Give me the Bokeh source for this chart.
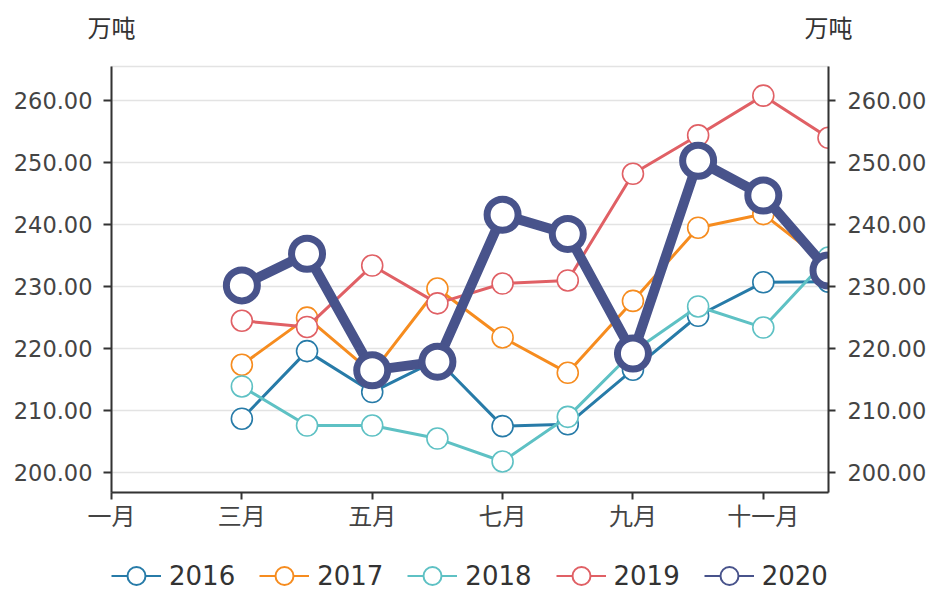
from bokeh.plotting import figure
from bokeh.layouts import column
from bokeh.models import (Range1d, LinearAxis, FixedTicker, PrintfTickFormatter,
                          ColumnDataSource, Legend, LegendItem)
from bokeh.embed import file_html
from bokeh.resources import INLINE

months = ["一月", "二月", "三月", "四月", "五月", "六月",
          "七月", "八月", "九月", "十月", "十一月", "十二月"]
data_months = ["三月", "四月", "五月", "六月", "七月", "八月", "九月", "十月", "十一月", "十二月"]
years = ["2016", "2017", "2018", "2019", "2020"]
v2016 = [208.7, 219.6, 213.0, 218.2, 207.5, 207.8, 216.6, 225.3, 230.7, 230.8]
v2017 = [217.4, 225.0, 216.1, 229.7, 221.8, 216.1, 227.7, 239.5, 241.7, 233.5]
v2018 = [213.9, 207.6, 207.6, 205.5, 201.8, 209.0, 219.5, 226.8, 223.4, 234.7]
v2019 = [224.5, 223.5, 233.4, 227.3, 230.5, 231.0, 248.2, 254.4, 260.8, 254.0]
v2020 = [230.2, 235.3, 216.5, 217.9, 241.6, 238.5, 219.2, 250.3, 244.7, 232.6]
y_ticks = [200, 210, 220, 230, 240, 250, 260]
unit = "万吨"

series = [v2016, v2017, v2018, v2019, v2020]
colors = ["#277ba8", "#f68c1f", "#5ec1c4", "#e06065", "#48538b"]

FONT_NUM = "DejaVu Sans"
FONT_CJK = "Noto Sans CJK SC"
W = 930
X0, X1 = 1, len(months)


def bare(fig):
    fig.title = None
    fig.outline_line_color = None
    fig.xgrid.visible = False
    fig.ygrid.visible = False
    fig.border_fill_color = "white"
    fig.background_fill_color = "white"


def style_axis(ax, tick_out, standoff, font, size, color="#444444"):
    ax.axis_line_color = "#333333"
    ax.axis_line_width = 2
    ax.major_tick_line_color = "#333333"
    ax.major_tick_line_width = 2
    ax.major_tick_out = tick_out
    ax.major_tick_in = 0
    ax.minor_tick_line_color = None
    ax.major_label_standoff = standoff
    ax.major_label_text_font = font
    ax.major_label_text_font_size = size
    ax.major_label_text_color = color


# ---- top strip: unit names over both value axes ----
top = figure(width=W, height=50, output_backend="svg", toolbar_location=None,
             x_range=Range1d(X0, X1), y_range=Range1d(0, 1),
             min_border_top=0, min_border_bottom=42,
             x_axis_location=None, y_axis_location=None)
bare(top)
uax = LinearAxis(ticker=FixedTicker(ticks=[X0, X1]),
                 major_label_overrides={X0: unit, X1: unit})
style_axis(uax, 0, 0, FONT_CJK, "24px", "#333333")
uax.axis_line_color = None
uax.major_tick_line_color = None
top.add_layout(uax, "below")

# ---- main chart ----
month_pos = {m: i + 1 for i, m in enumerate(months)}
xs = [month_pos[m] for m in data_months]

p = figure(width=W, height=492, output_backend="svg", toolbar_location=None,
           x_range=Range1d(X0, X1), y_range=Range1d(196.8, 265.5),
           min_border_left=111, min_border_right=102, min_border_top=16,
           min_border_bottom=50, y_axis_location=None, x_axis_location=None)
p.title = None
p.background_fill_color = "white"
p.border_fill_color = "white"
p.outline_line_color = "#e3e3e3"
p.outline_line_width = 1.5
p.xgrid.visible = False
p.ygrid.ticker = FixedTicker(ticks=y_ticks)
p.ygrid.grid_line_color = "#e3e3e3"
p.ygrid.grid_line_width = 1.5

xax = LinearAxis(ticker=FixedTicker(ticks=list(range(X0, X1 + 1, 2))),
                 major_label_overrides={i + 1: m for i, m in enumerate(months)})
style_axis(xax, 7, -3, FONT_CJK, "24px")
p.add_layout(xax, "below")

yl = LinearAxis(ticker=FixedTicker(ticks=y_ticks), formatter=PrintfTickFormatter(format="%.2f"))
style_axis(yl, 8, 11, FONT_NUM, "22.5px")
p.add_layout(yl, "left")
yr = LinearAxis(ticker=FixedTicker(ticks=y_ticks), formatter=PrintfTickFormatter(format="%.2f"))
style_axis(yr, 7, 12, FONT_NUM, "22.5px")
p.add_layout(yr, "right")

for i, (vals, c) in enumerate(zip(series, colors)):
    src = ColumnDataSource(data=dict(x=xs, y=vals))
    thick = (i == len(series) - 1)
    p.line("x", "y", source=src, line_color=c, line_width=10 if thick else 3,
           line_join="round")
    p.scatter("x", "y", source=src, size=31 if thick else 21, fill_color="white",
              line_color=c, line_width=7 if thick else 1.6)

# ---- bottom strip: legend ----
bot = figure(width=W, height=49, output_backend="svg", toolbar_location=None,
             x_range=Range1d(0, 1), y_range=Range1d(0, 1),
             min_border_top=0, min_border_bottom=0,
             x_axis_location=None, y_axis_location=None)
bare(bot)
items = []
for yr_name, c in zip(years, colors):
    proxy = ColumnDataSource(data=dict(x=[float("nan")], y=[float("nan")]))
    lr = bot.line("x", "y", source=proxy, line_color=c, line_width=2)
    sr = bot.scatter("x", "y", source=proxy, fill_color="white", line_color=c, line_width=2)
    items.append(LegendItem(label=yr_name, renderers=[lr, sr]))

legend = Legend(items=items, orientation="horizontal", location=(0, -7))
legend.glyph_width = 50
legend.glyph_height = 45
legend.label_standoff = 8
legend.spacing = 24
legend.padding = 0
legend.margin = 0
legend.label_text_font = FONT_NUM
legend.label_text_font_size = "26px"
legend.label_text_color = "#333333"
legend.background_fill_alpha = 0
legend.border_line_alpha = 0
bot.add_layout(legend, "center")

layout = column(top, p, bot, spacing=0)
open("out.html", "w").write(file_html(layout, INLINE))
